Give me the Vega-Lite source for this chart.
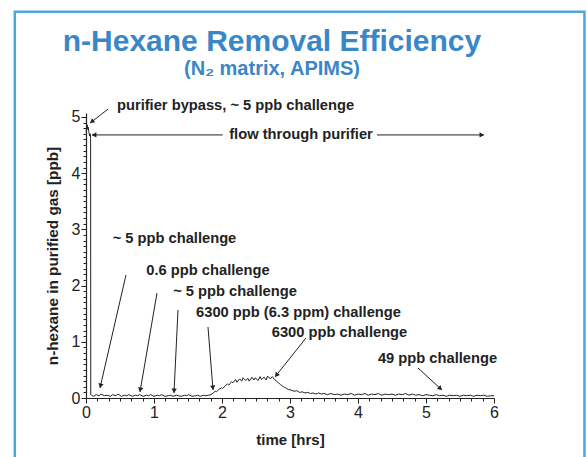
{
  "$schema": "https://vega.github.io/schema/vega-lite/v6.json",
  "width": 408,
  "height": 285,
  "autosize": {"type": "none"},
  "padding": {"left": 86, "top": 113, "right": 93, "bottom": 59},
  "background": "white",
  "config": {
    "view": {"stroke": null},
    "font": "Liberation Sans",
    "axis": {"grid": false, "labelOverlap": false, "domainColor": "#222", "tickColor": "#222", "labelColor": "#222", "titleColor": "#222", "labelFont": "Liberation Sans", "titleFont": "Liberation Sans", "labelFontSize": 16, "titleFontSize": 15, "titleFontWeight": "bold", "domainWidth": 1.2, "tickWidth": 1}
  },
  "title": {
    "text": "n-Hexane Removal Efficiency",
    "subtitle": "(N₂ matrix, APIMS)",
    "anchor": "middle",
    "frame": "group",
    "font": "Liberation Sans",
    "subtitleFont": "Liberation Sans",
    "fontSize": 30,
    "subtitleFontSize": 20,
    "fontWeight": "bold",
    "subtitleFontWeight": "bold",
    "color": "#3a87c8",
    "subtitleColor": "#3a87c8",
    "subtitlePadding": 2,
    "offset": -68,
    "dx": -18
  },
  "resolve": {"axis": {"x": "independent", "y": "independent"}},
  "datasets": {
    "trace": [
      {"t": 0.000, "v": 4.74}, {"t": 0.010, "v": 4.80}, {"t": 0.018, "v": 4.86}, {"t": 0.025, "v": 4.78},
      {"t": 0.032, "v": 4.82}, {"t": 0.040, "v": 4.74}, {"t": 0.048, "v": 4.70}, {"t": 0.055, "v": 4.66},
      {"t": 0.062, "v": 4.70}, {"t": 0.068, "v": 4.62}, {"t": 0.070, "v": 0.06},
      {"t": 0.08, "v": 0.05}, {"t": 0.11, "v": 0.03}, {"t": 0.15, "v": 0.06}, {"t": 0.19, "v": 0.04},
      {"t": 0.22, "v": 0.07}, {"t": 0.27, "v": 0.04}, {"t": 0.31, "v": 0.05}, {"t": 0.36, "v": 0.03},
      {"t": 0.39, "v": 0.06}, {"t": 0.44, "v": 0.04}, {"t": 0.47, "v": 0.07}, {"t": 0.52, "v": 0.03},
      {"t": 0.57, "v": 0.05}, {"t": 0.60, "v": 0.04}, {"t": 0.63, "v": 0.06}, {"t": 0.68, "v": 0.03},
      {"t": 0.73, "v": 0.05}, {"t": 0.76, "v": 0.04}, {"t": 0.79, "v": 0.06}, {"t": 0.84, "v": 0.03},
      {"t": 0.89, "v": 0.05}, {"t": 0.92, "v": 0.04}, {"t": 0.95, "v": 0.06}, {"t": 1.00, "v": 0.03},
      {"t": 1.05, "v": 0.05}, {"t": 1.08, "v": 0.04}, {"t": 1.11, "v": 0.06}, {"t": 1.16, "v": 0.03},
      {"t": 1.21, "v": 0.04}, {"t": 1.24, "v": 0.05}, {"t": 1.28, "v": 0.03}, {"t": 1.33, "v": 0.05},
      {"t": 1.36, "v": 0.04}, {"t": 1.40, "v": 0.03}, {"t": 1.45, "v": 0.05}, {"t": 1.48, "v": 0.04},
      {"t": 1.51, "v": 0.06}, {"t": 1.56, "v": 0.03}, {"t": 1.61, "v": 0.04}, {"t": 1.64, "v": 0.05},
      {"t": 1.68, "v": 0.03}, {"t": 1.73, "v": 0.05}, {"t": 1.76, "v": 0.04}, {"t": 1.80, "v": 0.05},
      {"t": 1.84, "v": 0.06}, {"t": 1.87, "v": 0.09}, {"t": 1.90, "v": 0.12}, {"t": 1.92, "v": 0.11},
      {"t": 1.96, "v": 0.16}, {"t": 1.99, "v": 0.18}, {"t": 2.01, "v": 0.17}, {"t": 2.05, "v": 0.22},
      {"t": 2.08, "v": 0.25}, {"t": 2.10, "v": 0.23}, {"t": 2.14, "v": 0.29}, {"t": 2.16, "v": 0.27},
      {"t": 2.20, "v": 0.33}, {"t": 2.22, "v": 0.28}, {"t": 2.26, "v": 0.34}, {"t": 2.29, "v": 0.30},
      {"t": 2.31, "v": 0.36}, {"t": 2.35, "v": 0.31}, {"t": 2.38, "v": 0.35}, {"t": 2.40, "v": 0.30},
      {"t": 2.44, "v": 0.37}, {"t": 2.47, "v": 0.32}, {"t": 2.49, "v": 0.36}, {"t": 2.53, "v": 0.31},
      {"t": 2.56, "v": 0.38}, {"t": 2.58, "v": 0.33}, {"t": 2.62, "v": 0.37}, {"t": 2.65, "v": 0.32},
      {"t": 2.67, "v": 0.39}, {"t": 2.71, "v": 0.34}, {"t": 2.74, "v": 0.38}, {"t": 2.77, "v": 0.33},
      {"t": 2.80, "v": 0.30}, {"t": 2.83, "v": 0.27}, {"t": 2.86, "v": 0.24}, {"t": 2.89, "v": 0.21},
      {"t": 2.92, "v": 0.19}, {"t": 2.95, "v": 0.17}, {"t": 2.98, "v": 0.15}, {"t": 3.02, "v": 0.14},
      {"t": 3.06, "v": 0.12}, {"t": 3.10, "v": 0.13}, {"t": 3.14, "v": 0.10}, {"t": 3.18, "v": 0.11},
      {"t": 3.22, "v": 0.09}, {"t": 3.26, "v": 0.10}, {"t": 3.30, "v": 0.08}, {"t": 3.34, "v": 0.09},
      {"t": 3.38, "v": 0.07}, {"t": 3.42, "v": 0.09}, {"t": 3.46, "v": 0.07}, {"t": 3.50, "v": 0.08},
      {"t": 3.55, "v": 0.06}, {"t": 3.60, "v": 0.08}, {"t": 3.65, "v": 0.06}, {"t": 3.70, "v": 0.07},
      {"t": 3.75, "v": 0.05}, {"t": 3.80, "v": 0.07}, {"t": 3.85, "v": 0.06}, {"t": 3.90, "v": 0.08},
      {"t": 3.95, "v": 0.05}, {"t": 4.00, "v": 0.07}, {"t": 4.05, "v": 0.06}, {"t": 4.10, "v": 0.08},
      {"t": 4.15, "v": 0.05}, {"t": 4.20, "v": 0.07}, {"t": 4.25, "v": 0.06}, {"t": 4.30, "v": 0.08},
      {"t": 4.35, "v": 0.05}, {"t": 4.40, "v": 0.07}, {"t": 4.45, "v": 0.06}, {"t": 4.50, "v": 0.07},
      {"t": 4.55, "v": 0.05}, {"t": 4.60, "v": 0.07}, {"t": 4.65, "v": 0.06}, {"t": 4.70, "v": 0.08},
      {"t": 4.75, "v": 0.05}, {"t": 4.80, "v": 0.07}, {"t": 4.85, "v": 0.05}, {"t": 4.90, "v": 0.06},
      {"t": 4.95, "v": 0.04}, {"t": 5.00, "v": 0.06}, {"t": 5.05, "v": 0.05}, {"t": 5.10, "v": 0.04},
      {"t": 5.15, "v": 0.06}, {"t": 5.20, "v": 0.04}, {"t": 5.25, "v": 0.05}, {"t": 5.30, "v": 0.03},
      {"t": 5.35, "v": 0.05}, {"t": 5.40, "v": 0.04}, {"t": 5.45, "v": 0.05}, {"t": 5.50, "v": 0.03},
      {"t": 5.55, "v": 0.05}, {"t": 5.60, "v": 0.04}, {"t": 5.65, "v": 0.05}, {"t": 5.70, "v": 0.03},
      {"t": 5.75, "v": 0.05}, {"t": 5.80, "v": 0.04}, {"t": 5.85, "v": 0.05}, {"t": 5.90, "v": 0.03},
      {"t": 5.95, "v": 0.04}, {"t": 6.00, "v": 0.04}
    ],
    "labels": [
      {"t": 2.199, "v": 5.195, "label": "purifier bypass, ~ 5 ppb challenge"},
      {"t": 3.162, "v": 4.68, "label": "flow through purifier"},
      {"t": 1.301, "v": 2.829, "label": "~ 5 ppb challenge"},
      {"t": 1.794, "v": 2.259, "label": "0.6 ppb challenge"},
      {"t": 2.191, "v": 1.886, "label": "~ 5 ppb challenge"},
      {"t": 3.125, "v": 1.512, "label": "6300 ppb (6.3 ppm) challenge"},
      {"t": 3.728, "v": 1.156, "label": "6300 ppb challenge"},
      {"t": 5.169, "v": 0.694, "label": "49 ppb challenge"}
    ],
    "arrows": [
      {"t1": 0.324, "v1": 5.14, "t2": 0.059, "v2": 4.89},
      {"t1": 0.088, "v1": 4.68, "t2": 2.01, "v2": 4.68},
      {"t1": 4.28, "v1": 4.68, "t2": 5.85, "v2": 4.68},
      {"t1": 0.588, "v1": 2.188, "t2": 0.206, "v2": 0.178},
      {"t1": 1.044, "v1": 1.868, "t2": 0.794, "v2": 0.107},
      {"t1": 1.353, "v1": 1.566, "t2": 1.294, "v2": 0.089},
      {"t1": 1.794, "v1": 1.263, "t2": 1.868, "v2": 0.142},
      {"t1": 3.235, "v1": 1.067, "t2": 2.779, "v2": 0.374},
      {"t1": 4.882, "v1": 0.534, "t2": 5.235, "v2": 0.142}
    ],
    "heads": [
      {"t": 0.094, "v": 4.925, "angle": 232},
      {"t": 0.13, "v": 4.68, "angle": 270},
      {"t": 5.81, "v": 4.68, "angle": 90},
      {"t": 0.216, "v": 0.23, "angle": 193},
      {"t": 0.801, "v": 0.16, "angle": 190},
      {"t": 1.296, "v": 0.142, "angle": 183},
      {"t": 1.865, "v": 0.196, "angle": 175},
      {"t": 2.807, "v": 0.415, "angle": 218},
      {"t": 5.203, "v": 0.178, "angle": 132}
    ]
  },
  "layer": [
    {
      "data": {"name": "trace"},
      "mark": {"type": "line", "color": "#222", "strokeWidth": 1, "clip": false},
      "encoding": {
        "x": {
          "field": "t", "type": "quantitative",
          "scale": {"domain": [0, 6], "nice": false, "zero": false},
          "axis": {
            "orient": "bottom",
            "title": "time [hrs]",
            "titlePadding": 12,
            "values": [0, 1, 2, 3, 4, 5, 6],
            "format": "d",
            "tickSize": 5,
            "labelPadding": 1,
            "labelFlush": false
          }
        },
        "y": {
          "field": "v", "type": "quantitative",
          "scale": {"domain": [0, 5.07], "nice": false},
          "axis": {
            "orient": "left",
            "title": "n-hexane in purified gas [ppb]",
            "titleFontSize": 15.3,
            "titlePadding": 11,
            "values": [0, 1, 2, 3, 4, 5],
            "format": "d",
            "tickSize": 5,
            "labelPadding": 1,
            "labelFlush": false
          }
        }
      }
    },
    {
      "data": {"name": "arrows"},
      "mark": {"type": "rule", "color": "#222", "strokeWidth": 1, "clip": false},
      "encoding": {
        "x": {
          "field": "t1", "type": "quantitative",
          "axis": {
            "orient": "bottom",
            "title": null,
            "labels": false,
            "domain": false,
            "tickSize": 3,
            "values": [0.16667, 0.33333, 0.5, 0.66667, 0.83333, 1.16667, 1.33333, 1.5, 1.66667, 1.83333, 2.16667, 2.33333, 2.5, 2.66667, 2.83333, 3.16667, 3.33333, 3.5, 3.66667, 3.83333, 4.16667, 4.33333, 4.5, 4.66667, 4.83333, 5.16667, 5.33333, 5.5, 5.66667, 5.83333]
          }
        },
        "y": {
          "field": "v1", "type": "quantitative",
          "axis": {
            "orient": "left",
            "title": null,
            "labels": false,
            "domain": false,
            "tickSize": 3,
            "values": [0.1, 0.2, 0.3, 0.4, 0.5, 0.6, 0.7, 0.8, 0.9, 1.1, 1.2, 1.3, 1.4, 1.5, 1.6, 1.7, 1.8, 1.9, 2.1, 2.2, 2.3, 2.4, 2.5, 2.6, 2.7, 2.8, 2.9, 3.1, 3.2, 3.3, 3.4, 3.5, 3.6, 3.7, 3.8, 3.9, 4.1, 4.2, 4.3, 4.4, 4.5, 4.6, 4.7, 4.8, 4.9]
          }
        },
        "x2": {"field": "t2"},
        "y2": {"field": "v2"}
      }
    },
    {
      "data": {"name": "heads"},
      "mark": {"type": "point", "shape": "triangle", "filled": true, "color": "#222", "size": 28, "opacity": 1, "clip": false},
      "encoding": {
        "x": {"field": "t", "type": "quantitative", "axis": null},
        "y": {"field": "v", "type": "quantitative", "axis": null},
        "angle": {"field": "angle", "type": "quantitative", "scale": null}
      }
    },
    {
      "data": {"name": "labels"},
      "mark": {"type": "text", "font": "Liberation Sans", "fontSize": 14.7, "fontWeight": "bold", "color": "#222", "align": "center", "baseline": "middle", "clip": false},
      "encoding": {
        "x": {"field": "t", "type": "quantitative", "axis": null},
        "y": {"field": "v", "type": "quantitative", "axis": null},
        "text": {"field": "label"}
      }
    },
    {
      "data": {"values": [{}]},
      "mark": {"type": "rect", "filled": false, "stroke": "#4fa6dc", "strokeWidth": 2.5, "clip": false},
      "encoding": {
        "x": {"datum": -1.047, "type": "quantitative", "axis": null},
        "x2": {"datum": 7.33},
        "y": {"datum": 6.87, "type": "quantitative", "axis": null},
        "y2": {"datum": -1.4}
      }
    }
  ]
}
